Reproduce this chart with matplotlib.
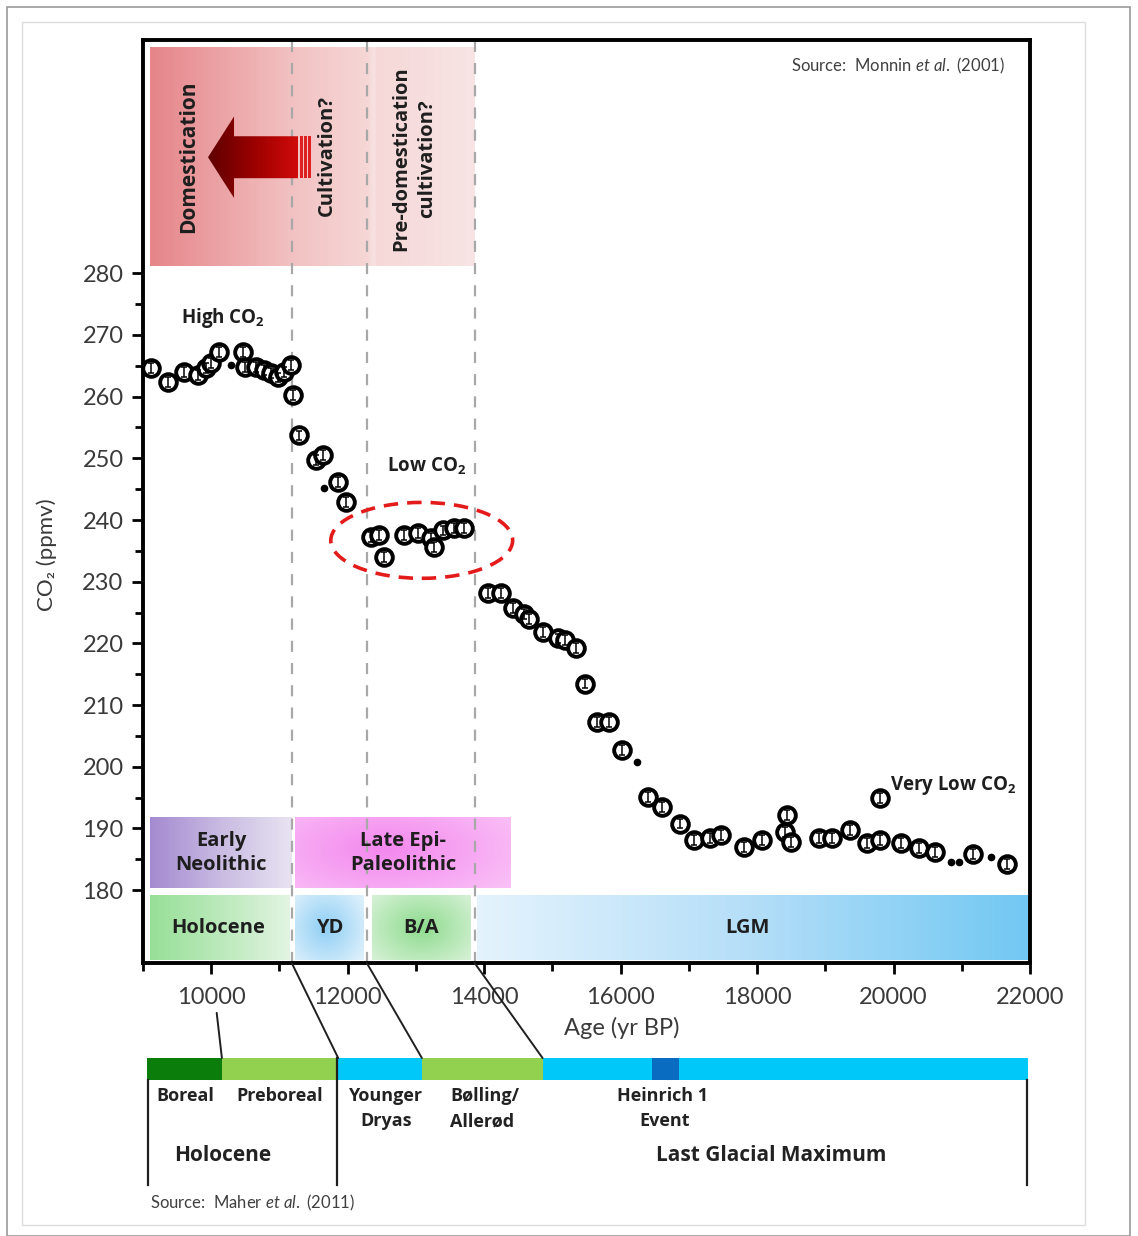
import matplotlib
matplotlib.use("Agg")
import numpy as np
import matplotlib.pyplot as plt
from matplotlib.patches import Rectangle, Ellipse, Polygon, ConnectionPatch
from matplotlib.colors import to_rgb

plt.rcParams['font.family'] = ['Lato', 'DejaVu Sans']
plt.rcParams['mathtext.fontset'] = 'custom'
plt.rcParams['mathtext.rm'] = 'Lato'
plt.rcParams['mathtext.it'] = 'Lato:italic'
plt.rcParams['mathtext.bf'] = 'Open Sans:bold'
BOLDFAM = ['Open Sans', 'DejaVu Sans']

# ---------------- data ----------------
age = [9117, 9366, 9600, 9805, 9922, 9996, 10113, 10464, 10493, 10654, 10771, 10874,
       10976, 11064, 11167, 11196, 11284, 11533, 11635, 11855, 11972, 12338, 12455,
       12528, 12821, 13026, 13216, 13260, 13392, 13553, 13699, 14051, 14241, 14417,
       14578, 14651, 14856, 15076, 15178, 15339, 15471, 15647, 15837, 16013, 16408,
       16613, 16876, 17081, 17316, 17477, 17813, 18077, 18443, 18414, 18501, 18911,
       19102, 19365, 19614, 19804, 19804, 20112, 20375, 20610, 21166, 21664]
co2 = [264.6, 262.3, 264.0, 263.5, 264.6, 265.4, 267.2, 267.2, 264.8, 264.8, 264.3, 263.8,
       263.1, 264.0, 265.1, 260.2, 253.7, 249.7, 250.5, 246.1, 242.9, 237.2, 237.5,
       234.0, 237.5, 237.9, 237.1, 235.6, 238.3, 238.7, 238.7, 228.1, 228.1, 225.7,
       224.8, 224.0, 221.9, 220.8, 220.5, 219.2, 213.5, 207.3, 207.3, 202.7, 195.1,
       193.5, 190.8, 188.1, 188.4, 188.9, 187.0, 188.1, 192.2, 189.4, 187.8, 188.4,
       188.4, 189.7, 187.6, 188.1, 194.9, 187.6, 186.8, 186.2, 185.9, 184.3]
co2_err = 0.8

small_age = [10288, 11650, 16247, 20844, 20961, 21429]
small_co2 = [265.1, 245.2, 200.8, 184.6, 184.6, 185.4]

period_bounds = [11180, 12280, 13860]          # dashed separators (yr BP)
x_ticks_major = list(range(10000, 22001, 2000))
x_ticks_minor = list(range(9000, 22001, 1000))
y_ticks_major = list(range(180, 281, 10))
y_ticks_minor = list(range(185, 280, 10))

timeline_edges = [0, 0.085, 0.217, 0.312, 0.449, 0.573, 0.604, 1.0]
timeline_colors = ['#0b7d0b', '#92d050', '#00c8f8', '#92d050', '#00c8f8', '#0a6cc0', '#00c8f8']

# ---------------- figure ----------------
W, H = 1138, 1236
fig = plt.figure(figsize=(W / 100, H / 100), dpi=100)
fig.patch.set_facecolor('white')

def fx(px):
    return px / W

def fy(py):
    return 1 - py / H

# page frame
fig.add_artist(Rectangle((fx(7), fy(1236)), fx(1130) - fx(7), fy(7) - fy(1236), transform=fig.transFigure,
                         fill=False, ec='#9a9a9a', lw=1.2))
fig.add_artist(Rectangle((fx(22), fy(1225)), fx(1085) - fx(22), fy(22) - fy(1225), transform=fig.transFigure,
                         fill=False, ec='#dcdcdc', lw=1.0))

ax = fig.add_axes([fx(143), fy(963), fx(1030) - fx(143), fy(40) - fy(963)])
XMIN, XMAX, YMIN, YMAX = 9000, 22000, 168.2, 317.8

def hgrad(x0, x1, y0, y1, stops, z=1):
    t = np.linspace(0, 1, 300)
    fr = [s[0] for s in stops]
    cols = np.array([to_rgb(s[1]) for s in stops])
    img = np.stack([np.interp(t, fr, cols[:, i]) for i in range(3)], axis=-1)[None, :, :]
    return ax.imshow(img, extent=[x0, x1, y0, y1], aspect='auto', zorder=z, interpolation='bilinear')

def rgrad(x0, x1, y0, y1, cin, cout, cx=0.5, cy=0.5, rx=0.6, ry=0.75, z=1):
    X, Y = np.meshgrid(np.linspace(0, 1, 200), np.linspace(0, 1, 80))
    d = np.clip(np.sqrt(((X - cx) / rx) ** 2 + ((Y - cy) / ry) ** 2), 0, 1)
    ci, co = np.array(to_rgb(cin)), np.array(to_rgb(cout))
    img = ci * (1 - d)[..., None] + co * d[..., None]
    return ax.imshow(img, extent=[x0, x1, y0, y1], origin='lower', aspect='auto', zorder=z,
                     interpolation='bilinear')

# top red box
hgrad(9100, period_bounds[2] - 10, 281.1, 316.5,
      [(0, '#e6858a'), (0.44, '#f2c2c2'), (0.67, '#f6d6d6'), (0.69, '#f8e2e2'), (0.70, '#f6d8d8'), (1, '#f8e4e4')])

# culture row
hgrad(9100, 11170, 180.3, 191.8, [(0, '#a48ad0'), (0.5, '#c9bbe2'), (1, '#e8e3f1')])
rgrad(11230, 14390, 180.3, 191.8, '#f387ee', '#fbcdf8', cx=0.42, cy=0.55, rx=0.85, ry=1.1)

# climate row
hgrad(9100, 11150, 168.7, 179.2, [(0, '#97df97'), (0.6, '#c2ebc2'), (1, '#e2f4e2')])
rgrad(11230, 12240, 168.7, 179.2, '#8fcff5', '#e2f2fc', cx=0.45, cy=0.5, rx=0.7, ry=0.8)
rgrad(12360, 13800, 168.7, 179.2, '#8edb8e', '#e0f4e0', cx=0.5, cy=0.5, rx=0.75, ry=0.85)
hgrad(13900, 21970, 168.7, 179.2, [(0, '#e4f3fd'), (0.5, '#b4def8'), (1, '#72c8f3')])

for b in period_bounds:
    ax.axvline(b, color='#a8a8a8', lw=1.6, ls=(0, (5, 5)), zorder=2)

# domestication arrow (gradient-filled polygon)
tip_x, head_x, body_x = 9953, 10334, 11272
yc = 298.8
head_h, body_h = 6.6, 3.4
arrow_pts = [(tip_x, yc), (head_x, yc + head_h), (head_x, yc + body_h), (body_x, yc + body_h),
             (body_x, yc - body_h), (head_x, yc - body_h), (head_x, yc - head_h)]
poly = Polygon(arrow_pts, closed=True, fc='none', ec='none', zorder=3)
ax.add_patch(poly)
im = hgrad(tip_x, body_x, yc - head_h, yc + head_h, [(0, '#5e0000'), (0.5, '#9a0000'), (1, '#d00a0a')], z=3)
im.set_clip_path(poly)
for sx0, sx1 in [(11301, 11345), (11360, 11404), (11419, 11463)]:
    ax.add_patch(Rectangle((sx0, yc - body_h), sx1 - sx0, 2 * body_h, fc='#dd2020', ec='none', zorder=3))

bold = dict(fontweight='bold', color='#1e1e1e', family=BOLDFAM)
ax.text(9674, 298.8, 'Domestication', rotation=90, ha='center', va='center', fontsize=15, zorder=4, **bold)
ax.text(11690, 299.1, 'Cultivation?', rotation=90, ha='center', va='center', fontsize=14.5, zorder=4, **bold)
ax.text(12980, 298.6, 'Pre-domestication\ncultivation?', rotation=90, ha='center', va='center',
        fontsize=14.5, zorder=4, linespacing=1.4, **bold)

ax.text(10150, 186.0, 'Early\nNeolithic', ha='center', va='center', fontsize=14.5, linespacing=1.3, zorder=4, **bold)
ax.text(12810, 186.0, 'Late Epi-\nPaleolithic', ha='center', va='center', fontsize=14.5, linespacing=1.3, zorder=4, **bold)
ax.text(10100, 173.9, 'Holocene', ha='center', va='center', fontsize=14.5, zorder=4, **bold)
ax.text(11735, 173.9, 'YD', ha='center', va='center', fontsize=14.5, zorder=4, **bold)
ax.text(13080, 173.9, 'B/A', ha='center', va='center', fontsize=14.5, zorder=4, **bold)
ax.text(17860, 173.9, 'LGM', ha='center', va='center', fontsize=14.5, zorder=4, **bold)

# data
ax.plot(age, co2, ls='none', marker='o', ms=12, mfc='white', mec='black', mew=2.8, zorder=5, clip_on=False)
ax.errorbar(age, co2, yerr=co2_err, fmt='none', ecolor='black', elinewidth=1.1, capsize=2.2, capthick=1.1, zorder=6)
ax.plot(small_age, small_co2, ls='none', marker='o', ms=4.5, mfc='black', mec='black', zorder=6)

ax.add_patch(Ellipse((13085, 236.7), 2665, 12.3, fill=False, ec='#e41b1b', lw=2.6, ls=(0, (4, 2.5)), zorder=7))

ann = dict(fontsize=13.5, color='#1e1e1e', fontweight='bold', family=BOLDFAM)
ax.text(10170, 272.7, r'High CO$_\mathbf{2}$', ha='center', va='center', **ann)
ax.text(13150, 248.9, r'Low CO$_\mathbf{2}$', ha='center', va='center', **ann)
ax.text(19950, 197.0, r'Very Low CO$_\mathbf{2}$', ha='left', va='center', **ann)
ax.text(0.972, 0.972, r'Source:  Monnin $et\ al.$ (2001)', transform=ax.transAxes, ha='right', va='center',
        fontsize=12, color='#404040')

# axes styling
ax.set_xlim(XMIN, XMAX)
ax.set_ylim(YMIN, YMAX)
ax.set_xticks(x_ticks_major)
ax.set_xticks(x_ticks_minor, minor=True)
ax.set_yticks(y_ticks_major)
ax.set_yticks(y_ticks_minor, minor=True)
ax.tick_params(axis='both', which='major', direction='out', length=8, width=2, labelsize=17,
               labelcolor='#3a3a3a', color='black')
ax.tick_params(axis='x', which='major', pad=9)
ax.tick_params(axis='y', which='major', pad=6)
ax.tick_params(axis='both', which='minor', direction='out', length=6, width=2, color='black')
for s in ax.spines.values():
    s.set_linewidth(2.8)
    s.set_color('black')
ax.set_xlabel('Age (yr BP)', fontsize=17, color='#3a3a3a')
ax.set_ylabel('CO\u2082 (ppmv)', fontsize=16, color='#3a3a3a')
ax.xaxis.set_label_coords((622 - 143) / 887, (963 - 1017) / 923)
ax.yaxis.set_label_coords((57 - 143) / 887, (963 - 555) / 923)

# ---------------- timeline ----------------
ax2 = fig.add_axes([fx(147), fy(1185), fx(1028) - fx(147), fy(1058) - fy(1185)])
ax2.set_xlim(0, 1)
ax2.set_ylim(0, 1)
ax2.axis('off')
bar_bottom = 1 - 22 / 127
for i, c in enumerate(timeline_colors):
    ax2.add_patch(Rectangle((timeline_edges[i], bar_bottom), timeline_edges[i + 1] - timeline_edges[i],
                            1 - bar_bottom, fc=c, ec='none', zorder=2))
ax2.plot([0.001, 0.001], [0, bar_bottom], color='#202020', lw=1.6, clip_on=False)
ax2.plot([0.9985, 0.9985], [0, bar_bottom], color='#202020', lw=1.6, clip_on=False)
ax2.plot([timeline_edges[2] - 0.001] * 2, [0, 1], color='#202020', lw=1.6, clip_on=False, zorder=3)

tl = dict(fontsize=13, color='#222222', fontweight='bold', family=BOLDFAM)
ax2.text(0.044, 0.700, 'Boreal', ha='center', va='center', **tl)
ax2.text(0.151, 0.700, 'Preboreal', ha='center', va='center', **tl)
ax2.text(0.270, 0.700, 'Younger', ha='center', va='center', **tl)
ax2.text(0.271, 0.503, 'Dryas', ha='center', va='center', **tl)
ax2.text(0.344, 0.700, 'B\u00f8lling/', ha='left', va='center', **tl)
ax2.text(0.344, 0.503, 'Aller\u00f8d', ha='left', va='center', **tl)
ax2.text(0.585, 0.700, 'Heinrich 1', ha='center', va='center', **tl)
ax2.text(0.588, 0.503, 'Event', ha='center', va='center', **tl)
tl2 = dict(tl, fontsize=15)
ax2.text(0.086, 0.232, 'Holocene', ha='center', va='center', **tl2)
ax2.text(0.709, 0.232, 'Last Glacial Maximum', ha='center', va='center', **tl2)

# connectors from the CO2 axis to the timeline
for b, e in zip(period_bounds, [timeline_edges[2], timeline_edges[3], timeline_edges[4]]):
    fig.add_artist(ConnectionPatch(xyA=(b, YMIN), coordsA='data', axesA=ax,
                                   xyB=(e, 1), coordsB='data', axesB=ax2, color='#202020', lw=1.4))
fig.add_artist(ConnectionPatch(xyA=(10080, -0.054), coordsA=ax.get_xaxis_transform(), axesA=ax,
                               xyB=(timeline_edges[1], 1), coordsB='data', axesB=ax2, color='#202020', lw=1.4))

fig.text(fx(150), fy(1203), r'Source:  Maher $et\ al.$ (2011)', ha='left', va='center', fontsize=12,
         color='#404040')

fig.savefig('out.png', dpi=100, facecolor='white')
